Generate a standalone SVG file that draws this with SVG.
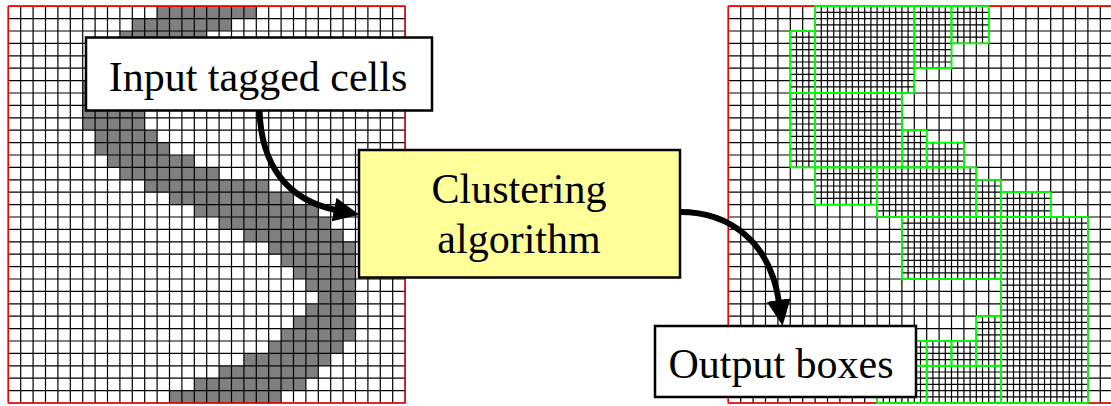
<svg xmlns="http://www.w3.org/2000/svg" width="1111" height="406" viewBox="0 0 1111 406">
  <defs>
    <style>
      .tag{fill:#808080}
      .grid{fill:none;stroke:#000;stroke-dasharray:1.2 11.2}
      .frame{fill:none;stroke:#f00;stroke-width:1.3}
      .patch{fill:none;stroke:#00ff00;stroke-width:1.8}
      .label{fill:#fff;stroke:#000;stroke-width:2.5}
      .algo{fill:#ffff99;stroke:#000;stroke-width:2.5}
      .flow{fill:none;stroke:#000;stroke-width:6;marker-end:url(#head)}
      text{font-family:"Liberation Serif","Times New Roman",serif;font-size:42px;fill:#000;text-anchor:middle}
    </style>
    <marker id="head" markerUnits="userSpaceOnUse" markerWidth="26" markerHeight="24" viewBox="0 0 26 24" refX="2" refY="12" orient="auto">
      <path d="M0,0 L26,12 L0,24 z" fill="#000"/>
    </marker>
  </defs>

  <rect width="1111" height="406" fill="#fff"/>

  <!-- Input mesh: 32x32 coarse cells, 12.4 px each, tagged cells in gray -->
  <g id="input-grid">
    <g id="tagged-cells" class="tag">
      <rect x="157.1" y="6.2" width="99.2" height="12.4"/>
      <rect x="132.3" y="18.6" width="99.2" height="12.4"/>
      <rect x="119.9" y="31" width="86.8" height="12.4"/>
      <rect x="107.5" y="43.4" width="86.8" height="12.4"/>
      <rect x="95.1" y="55.8" width="86.8" height="12.4"/>
      <rect x="95.1" y="68.2" width="74.4" height="12.4"/>
      <rect x="82.7" y="80.6" width="74.4" height="12.4"/>
      <rect x="82.7" y="93" width="62" height="12.4"/>
      <rect x="82.7" y="105.4" width="62" height="12.4"/>
      <rect x="82.7" y="117.8" width="62" height="12.4"/>
      <rect x="95.1" y="130.2" width="62" height="12.4"/>
      <rect x="95.1" y="142.6" width="74.4" height="12.4"/>
      <rect x="107.5" y="155" width="86.8" height="12.4"/>
      <rect x="119.9" y="167.4" width="99.2" height="12.4"/>
      <rect x="144.7" y="179.8" width="124" height="12.4"/>
      <rect x="169.5" y="192.2" width="124" height="12.4"/>
      <rect x="194.3" y="204.6" width="124" height="12.4"/>
      <rect x="219.1" y="217" width="111.6" height="12.4"/>
      <rect x="243.9" y="229.4" width="99.2" height="12.4"/>
      <rect x="268.7" y="241.8" width="86.8" height="12.4"/>
      <rect x="281.1" y="254.2" width="74.4" height="12.4"/>
      <rect x="293.5" y="266.6" width="62" height="12.4"/>
      <rect x="305.9" y="279" width="49.6" height="12.4"/>
      <rect x="318.3" y="291.4" width="37.2" height="12.4"/>
      <rect x="305.9" y="303.8" width="49.6" height="12.4"/>
      <rect x="293.5" y="316.2" width="62" height="12.4"/>
      <rect x="281.1" y="328.6" width="74.4" height="12.4"/>
      <rect x="268.7" y="341" width="74.4" height="12.4"/>
      <rect x="243.9" y="353.4" width="86.8" height="12.4"/>
      <rect x="219.1" y="365.8" width="99.2" height="12.4"/>
      <rect x="194.3" y="378.2" width="111.6" height="12.4"/>
      <rect x="169.5" y="390.6" width="111.6" height="12.4"/>
    </g>
    <!-- grid lines drawn as dashed wide strokes: each dash is one thin line -->
    <path class="grid" stroke-width="396.8" d="M7.7 204.6H405.7"/>
    <path class="grid" stroke-width="396.8" d="M206.7 5.6V403.6"/>
    <rect class="frame" x="8.3" y="6.2" width="396.8" height="396.8"/>
  </g>

  <!-- Output mesh: same coarse grid with refined boxes (ratio 2) -->
  <g id="output-grid">
    <path class="grid" stroke-width="396.8" d="M727.7 204.6H1125.7"/>
    <path class="grid" stroke-width="396.8" d="M926.7 5.6V403.6"/>
    <g id="fine-lines" class="grid">
      <path stroke-width="86.8" d="M820.7 49.6H908.7"/>
      <path stroke-width="99.2" d="M864.7 11.8V87.4"/>
      <path stroke-width="62" d="M919.9 37.2H945.9"/>
      <path stroke-width="37.2" d="M932.9 11.8V62.6"/>
      <path stroke-width="37.2" d="M957.1 24.8H983.1"/>
      <path stroke-width="37.2" d="M970.1 11.8V37.8"/>
      <path stroke-width="62" d="M795.9 62H809.5"/>
      <path stroke-width="24.8" d="M802.7 36.6V87.4"/>
      <path stroke-width="74.4" d="M795.9 130.2H809.5"/>
      <path stroke-width="24.8" d="M802.7 98.6V161.8"/>
      <path stroke-width="74.4" d="M820.7 130.2H896.3"/>
      <path stroke-width="86.8" d="M858.5 98.6V161.8"/>
      <path stroke-width="37.2" d="M907.5 148.8H921.1"/>
      <path stroke-width="24.8" d="M914.3 135.8V161.8"/>
      <path stroke-width="24.8" d="M932.3 155H958.3"/>
      <path stroke-width="37.2" d="M945.3 148.2V161.8"/>
      <path stroke-width="37.2" d="M820.7 186H871.5"/>
      <path stroke-width="62" d="M846.1 173V199"/>
      <path stroke-width="49.6" d="M882.7 192.2H970.7"/>
      <path stroke-width="99.2" d="M926.7 173V211.4"/>
      <path stroke-width="37.2" d="M981.9 198.4H995.5"/>
      <path stroke-width="24.8" d="M988.7 185.4V211.4"/>
      <path stroke-width="24.8" d="M1006.7 204.6H1045.1"/>
      <path stroke-width="49.6" d="M1025.9 197.8V211.4"/>
      <path stroke-width="62" d="M907.5 248H995.5"/>
      <path stroke-width="99.2" d="M951.5 222.6V273.4"/>
      <path stroke-width="186" d="M1006.7 310H1082.3"/>
      <path stroke-width="86.8" d="M1044.5 222.6V397.4"/>
      <path stroke-width="49.6" d="M981.9 341H995.5"/>
      <path stroke-width="24.8" d="M988.7 321.8V360.2"/>
      <path stroke-width="24.8" d="M882.7 353.4H970.7"/>
      <path stroke-width="99.2" d="M926.7 346.6V360.2"/>
      <path stroke-width="37.2" d="M882.7 384.4H995.5"/>
      <path stroke-width="124" d="M939.1 371.4V397.4"/>
    </g>
    <rect class="frame" x="728.3" y="6.2" width="396.8" height="396.8"/>
    <g id="boxes" class="patch">
      <rect x="815.1" y="6.2" width="99.2" height="86.8"/>
      <rect x="914.3" y="6.2" width="37.2" height="62"/>
      <rect x="951.5" y="6.2" width="37.2" height="37.2"/>
      <rect x="790.3" y="31" width="24.8" height="62"/>
      <rect x="790.3" y="93" width="24.8" height="74.4"/>
      <rect x="815.1" y="93" width="86.8" height="74.4"/>
      <rect x="901.9" y="130.2" width="24.8" height="37.2"/>
      <rect x="926.7" y="142.6" width="37.2" height="24.8"/>
      <rect x="815.1" y="167.4" width="62" height="37.2"/>
      <rect x="877.1" y="167.4" width="99.2" height="49.6"/>
      <rect x="976.3" y="179.8" width="24.8" height="37.2"/>
      <rect x="1001.1" y="192.2" width="49.6" height="24.8"/>
      <rect x="901.9" y="217" width="99.2" height="62"/>
      <rect x="1001.1" y="217" width="86.8" height="186"/>
      <rect x="976.3" y="316.2" width="24.8" height="49.6"/>
      <rect x="926.7" y="341" width="24.8" height="24.8"/>
      <rect x="951.5" y="341" width="24.8" height="24.8"/>
      <rect x="877.1" y="341" width="49.6" height="24.8"/>
      <rect x="926.7" y="365.8" width="74.4" height="37.2"/>
      <rect x="877.1" y="365.8" width="49.6" height="37.2"/>
    </g>
  </g>

  <g id="connectors">
    <path class="flow" d="M259.5 110C261 165 287 200 336 210"/>
    <path class="flow" d="M680 212C730 212 770 242 779 302"/>
  </g>

  <g id="input-label">
    <rect class="label" x="86" y="37.5" width="346" height="73"/>
    <text x="258" y="91">Input tagged cells</text>
  </g>

  <g id="clustering">
    <rect class="algo" x="359" y="150" width="321" height="127.5"/>
    <text x="519" y="203">Clustering</text>
    <text x="519" y="253">algorithm</text>
  </g>

  <g id="output-label">
    <rect class="label" x="655" y="326" width="261" height="71"/>
    <text x="781" y="378">Output boxes</text>
  </g>
</svg>
